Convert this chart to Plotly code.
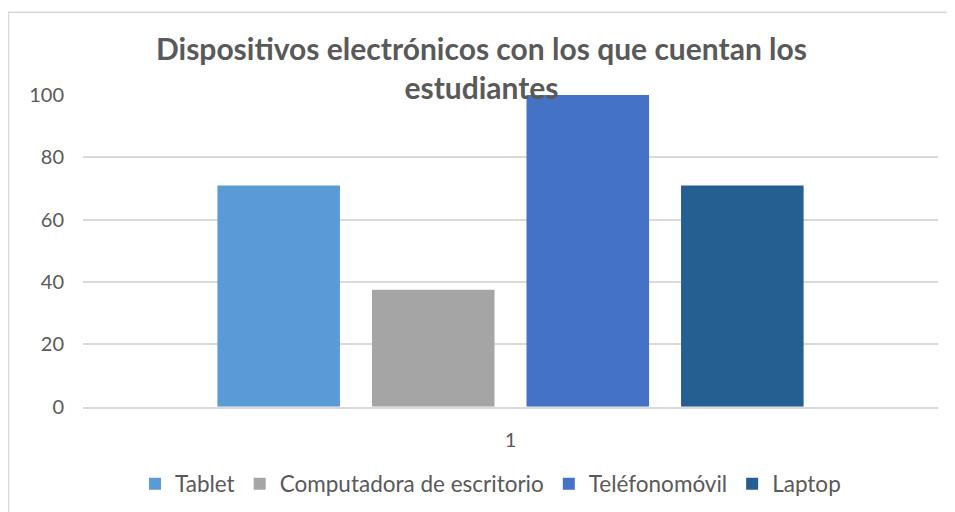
import plotly.graph_objects as go

categories = ["1"]
series_names = ["Tablet", "Computadora de escritorio", "Teléfonomóvil", "Laptop"]
series_values = [[71], [37.5], [100], [71]]
series_colors = ["#5B9BD5", "#A5A5A5", "#4472C4", "#255E91"]
y_ticks = [0, 20, 40, 60, 80, 100]

fig = go.Figure()
for name, vals, col in zip(series_names, series_values, series_colors):
    fig.add_trace(go.Bar(x=categories, y=vals, name=name, marker_color=col,
                         marker_line_width=0))

font_family = "Lato, Open Sans, sans-serif"
W, H = 947, 504
L, R, T, B = 75, 17, 87, 104
pw, ph = W - L - R, H - T - B
fig.update_layout(
    width=W, height=H,
    margin=dict(l=L, r=R, t=T, b=B),
    paper_bgcolor="white", plot_bgcolor="white",
    barmode="group", bargap=0.277, bargroupgap=0.207,
    title=dict(text="<b>Dispositivos electrónicos con los que cuentan los<br>estudiantes</b>",
               x=0.5, xanchor="center", y=1 - 52 / H, yanchor="middle",
               font=dict(family=font_family, size=30, color="#595959")),
    font=dict(family=font_family, color="#595959", size=20),
    xaxis=dict(type="category", showgrid=False, showline=True, linecolor="#d9d9d9",
               linewidth=1.5, ticks="", tickfont=dict(size=20, color="#595959"),
               ticklabelstandoff=14),
    yaxis=dict(range=[0, 100], tickvals=y_ticks, showgrid=True, gridcolor="#d9d9d9",
               gridwidth=1.5, zeroline=False, showline=False, ticks="",
               tickfont=dict(size=20, color="#595959"), ticklabelstandoff=18),
    legend=dict(orientation="h", x=0.5 - 20 / pw, xanchor="center",
                yref="container", y=1 - 476 / H, yanchor="middle",
                font=dict(size=22.5, color="#595959"), itemwidth=30,
                traceorder="normal"),
    shapes=[dict(type="rect", xref="paper", yref="paper",
                 x0=-(L - 0.5) / pw, x1=(W + 10 - L) / pw,
                 y0=-(B + 20) / ph, y1=1 + (T - 4) / ph,
                 line=dict(color="#d9d9d9", width=1.5), fillcolor="rgba(0,0,0,0)",
                 layer="below")],
)
fig.write_html("out.html")
